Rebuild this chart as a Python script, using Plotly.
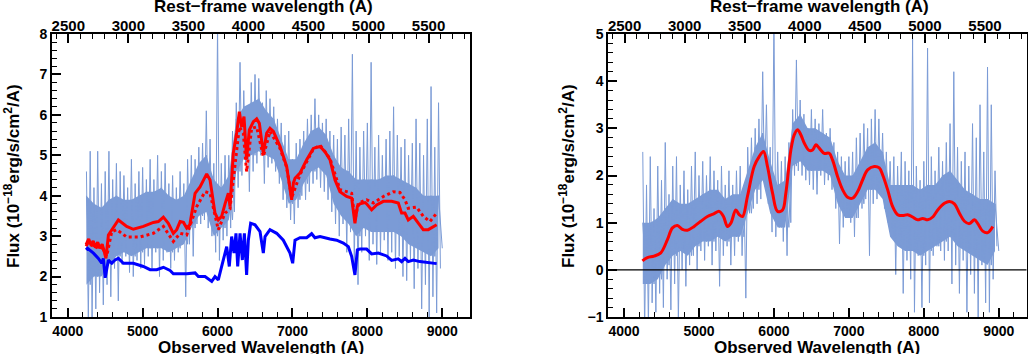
import plotly.graph_objects as go

Z = 0.603  # redshift linking observed and rest-frame axes

# ---------------- left panel data ----------------
grid_l = list(range(4250, 8951, 50))
noise_hi_l = [4.6, 5.1, 4.2, 5.1, 4.3, 4.6, 5.1, 4.4, 4.8, 4.6,
              4.5, 4.2, 4.9, 4.3, 4.6, 4.7, 4.4, 4.9, 4.4, 5.0,
              4.6, 4.8, 4.3, 4.5, 4.2, 4.6, 4.3, 4.9, 5.0, 4.9,
              5.2, 5.3, 6.1, 5.4, 4.8, 8.2, 4.8, 5.0, 5.0, 5.6,
              6.3, 7.3, 6.6, 6.2, 6.8, 7.0, 6.9, 6.3, 6.6, 6.4,
              6.2, 5.9, 5.8, 5.5, 5.6, 4.9, 5.3, 5.4, 5.6, 5.9,
              6.0, 6.4, 6.0, 5.8, 5.9, 5.6, 5.5, 5.4, 5.7, 5.5,
              5.9, 7.5, 5.6, 5.2, 5.6, 5.8, 7.3, 5.2, 5.5, 5.0,
              5.4, 5.6, 6.2, 5.5, 5.2, 5.4, 5.0, 5.3, 5.9, 5.3,
              5.0, 5.9, 6.7, 5.2, 6.3]
noise_lo_l = [0.9, 1.0, 1.2, 1.6, 1.3, 1.8, 1.5, 2.2, 1.4, 2.3,
              2.5, 2.1, 2.0, 2.4, 2.2, 2.3, 2.5, 2.2, 2.6, 2.0,
              2.4, 2.6, 2.2, 2.4, 2.6, 2.8, 1.5, 2.8, 2.5, 3.3,
              3.3, 3.4, 3.2, 3.0, 2.6, 2.4, 2.9, 3.0, 3.2, 3.6,
              4.2, 4.5, 4.8, 4.1, 4.6, 4.8, 5.0, 4.3, 4.7, 4.8,
              4.6, 4.3, 3.9, 3.7, 3.4, 3.3, 3.7, 4.0, 3.9, 4.1,
              4.3, 4.4, 4.2, 4.1, 3.9, 3.6, 3.3, 3.0, 3.3, 2.6,
              3.1, 2.2, 1.8, 2.6, 3.0, 2.4, 2.8, 2.3, 2.6, 2.9,
              2.4, 2.6, 2.2, 2.5, 2.0, 1.9, 2.4, 1.7, 2.2, 1.2,
              1.8, 1.0, 1.5, 1.1, 2.2]
core_grid_l = list(range(4250, 8951, 100))
core_hi_l = [4.0, 3.8, 3.7, 3.9, 4.0, 3.9, 3.9, 4.0, 4.1, 4.1,
             4.2, 4.0, 3.9, 4.0, 4.4, 4.8, 5.0, 4.4, 4.2, 4.5,
             5.9, 6.2, 6.3, 6.4, 6.1, 5.9, 5.4, 4.9, 4.9, 5.3,
             5.6, 5.7, 5.5, 5.0, 4.7, 4.6, 4.4, 4.4, 4.4, 4.4,
             4.5, 4.5, 4.4, 4.3, 4.2, 4.0, 4.0, 4.0]
core_lo_l = [1.8, 2.0, 2.0, 2.3, 2.5, 2.6, 2.5, 2.6, 2.7, 2.7,
             2.7, 2.6, 2.7, 2.8, 3.2, 3.5, 3.6, 3.0, 3.2, 3.4,
             4.6, 4.9, 5.0, 5.1, 5.0, 4.9, 4.4, 3.8, 3.9, 4.3,
             4.6, 4.7, 4.5, 3.8, 3.5, 3.3, 3.0, 3.2, 3.1, 3.1,
             3.1, 3.1, 3.0, 2.8, 2.7, 2.6, 2.5, 2.7]

fit_l_wave = [4245, 4280, 4310, 4340, 4370, 4400, 4430, 4460, 4490, 4510,
              4543, 4570, 4676, 4787, 4876, 5010, 5143, 5210, 5277, 5343,
              5410, 5455, 5500, 5545, 5588, 5630, 5700, 5766, 5855, 5900,
              5966, 6010, 6055, 6100, 6144, 6166, 6210, 6255, 6291, 6322,
              6353, 6388, 6424, 6478, 6522, 6558, 6611, 6656, 6700, 6745,
              6834, 6923, 6989, 7012, 7034, 7100, 7190, 7278, 7368, 7434,
              7501, 7568, 7634, 7723, 7790, 7834, 7866, 7901, 7968, 7990,
              8057, 8124, 8213, 8324, 8413, 8457, 8502, 8546, 8613, 8680,
              8746, 8813, 8880, 8925]
fit_l_flux = [2.79, 2.93, 2.78, 2.88, 2.72, 2.85, 2.70, 2.80, 2.60, 2.45,
              3.03, 3.10, 3.40, 3.24, 3.17, 3.24, 3.34, 3.36, 3.47, 3.32,
              3.07, 3.16, 3.36, 3.34, 3.20, 3.28, 4.06, 4.22, 4.54, 4.39,
              3.57, 3.40, 3.49, 3.80, 4.06, 3.73, 5.05, 5.55, 6.08, 5.70,
              5.96, 4.90, 5.63, 5.83, 5.90, 5.79, 5.05, 5.55, 5.67, 5.59,
              5.22, 4.72, 3.90, 4.31, 4.43, 4.56, 4.89, 5.17, 5.22, 5.09,
              4.89, 4.39, 4.10, 3.98, 3.94, 3.32, 3.73, 3.80, 3.83, 3.80,
              3.65, 3.77, 3.86, 3.86, 3.82, 3.57, 3.57, 3.40, 3.49, 3.32,
              3.16, 3.16, 3.24, 3.28]

alt_l_wave = [4245, 4280, 4310, 4340, 4370, 4400, 4430, 4460, 4490, 4520,
              4587, 4654, 4787, 4965, 5143, 5277, 5410, 5500, 5588, 5722,
              5833, 5900, 6010, 6100, 6166, 6233, 6291, 6344, 6388, 6455,
              6522, 6611, 6700, 6834, 6923, 6989, 7100, 7278, 7368, 7501,
              7634, 7723, 7790, 7834, 7879, 7990, 8079, 8213, 8346, 8435,
              8502, 8546, 8657, 8746, 8835, 8925]
alt_l_flux = [2.75, 2.88, 2.74, 2.84, 2.68, 2.80, 2.66, 2.76, 2.58, 2.50,
              3.11, 3.16, 2.98, 2.98, 3.07, 3.24, 2.87, 3.07, 3.03, 3.73,
              4.10, 4.06, 3.16, 3.57, 3.67, 4.80, 5.70, 5.55, 4.60, 5.67,
              5.70, 4.97, 5.59, 5.17, 4.70, 3.95, 4.52, 5.15, 5.25, 4.92,
              4.15, 4.10, 4.06, 3.40, 3.82, 3.90, 3.82, 3.98, 4.10, 4.08,
              3.90, 3.69, 3.72, 3.49, 3.36, 3.57]

tmpl_l_wave = [4245, 4265, 4343, 4409, 4454, 4475, 4500, 4543, 4587, 4632,
               4676, 4743, 4876, 5010, 5099, 5188, 5277, 5366, 5410, 5588,
               5700, 5744, 5833, 5922, 5966, 6010, 6055, 6122, 6157, 6188,
               6220, 6246, 6269, 6300, 6331, 6358, 6388, 6411, 6442, 6500,
               6567, 6611, 6634, 6700, 6789, 6878, 6967, 7003, 7034, 7100,
               7190, 7256, 7300, 7368, 7501, 7590, 7679, 7746, 7790, 7834,
               7866, 7901, 7990, 8057, 8146, 8257, 8324, 8413, 8457, 8502,
               8546, 8613, 8702, 8835, 8925]
tmpl_l_flux = [2.66, 2.70, 2.58, 2.45, 2.33, 2.45, 1.97, 2.41, 2.33, 2.41,
               2.45, 2.33, 2.33, 2.25, 2.17, 2.17, 2.23, 2.15, 2.07, 2.07,
               2.09, 2.00, 2.00, 1.88, 2.00, 1.92, 2.25, 2.74, 2.25, 2.99,
               2.58, 3.07, 2.25, 3.07, 2.41, 3.07, 2.04, 2.90, 3.32, 3.28,
               3.11, 2.58, 2.99, 3.16, 3.07, 2.90, 2.58, 2.33, 2.90, 2.96,
               2.96, 3.06, 2.96, 2.99, 2.93, 2.90, 2.83, 2.74, 2.50, 2.04,
               2.66, 2.68, 2.68, 2.56, 2.58, 2.51, 2.40, 2.44, 2.37, 2.45,
               2.37, 2.41, 2.37, 2.33, 2.32]

# ---------------- right panel data ----------------
grid_r = list(range(4250, 8951, 50))
noise_hi_r = [2.5, 1.8, 2.4, 1.3, 2.2, 1.9, 2.7, 1.6, 2.2, 2.4,
              1.8, 2.1, 1.7, 2.2, 2.5, 2.0, 2.3, 2.0, 2.4, 2.1,
              1.9, 2.2, 1.8, 2.1, 1.8, 2.1, 2.2, 1.8, 2.6, 2.8,
              3.0, 3.2, 4.2, 3.5, 2.6, 5.3, 2.5, 2.3, 2.4, 2.7,
              3.4, 4.45, 3.6, 3.3, 3.0, 3.4, 3.2, 3.1, 3.4, 2.9,
              3.0, 2.7, 2.5, 2.4, 2.3, 2.4, 2.5, 2.8, 2.9, 3.1,
              3.0, 3.2, 3.4, 3.2, 2.9, 2.5, 2.3, 2.4, 2.2, 2.5,
              2.3, 2.1, 4.9, 2.2, 1.9, 2.3, 4.7, 2.4, 2.1, 2.6,
              2.3, 2.7, 3.1, 4.2, 2.6, 2.3, 2.5, 2.2, 3.1, 2.8,
              3.5, 2.5, 4.3, 3.5, 2.1]
noise_lo_r = [-1.3, -1.2, -0.7, -0.9, -0.5, -0.8, -0.2, -0.85, -0.3, -1.1,
              0.0, -0.35, 0.1, 0.3, 0.0, 0.4, 0.2, 0.5, 0.1, 0.4,
              -0.35, 0.3, 0.5, 0.1, 0.3, 0.6, 0.3, -0.6, 1.2, 1.3,
              1.4, 1.5, 1.8, 1.4, 0.8, 0.7, 0.9, 0.6, 0.3, 1.0,
              2.0, 2.1, 2.0, 1.9, 1.8, 1.7, 1.6, 2.0, 1.8, 1.9,
              1.7, 1.3, 0.55, 0.9, 1.2, 1.0, 0.7, 1.1, 1.3, 1.5,
              0.3, 1.4, 1.5, 1.6, 1.3, 1.0, 0.9, -0.1, 0.7, -0.5,
              0.2, -0.2, -0.9, 0.3, -0.8, 0.1, -0.7, 0.3, 0.5, 0.4,
              0.2, 0.4, -0.3, 0.1, -0.5, 0.2, -0.9, -0.1, -0.5, -1.0,
              0.1, -0.7, -0.9, -0.2, 0.5]
core_grid_r = list(range(4250, 8951, 100))
core_hi_r = [1.0, 1.0, 1.1, 1.3, 1.5, 1.4, 1.4, 1.5, 1.6, 1.7,
             1.7, 1.5, 1.6, 1.6, 2.1, 2.6, 2.9, 2.3, 1.8, 1.9,
             3.1, 3.3, 3.0, 3.0, 2.9, 2.8, 2.3, 2.0, 2.0, 2.3,
             2.6, 2.7, 2.5, 1.8, 1.8, 1.8, 1.8, 1.7, 1.8, 1.8,
             2.0, 2.1, 1.9, 1.7, 1.6, 1.5, 1.5, 1.4]
core_lo_r = [-0.3, -0.3, -0.2, 0.1, 0.3, 0.4, 0.3, 0.5, 0.6, 0.6,
             0.7, 0.6, 0.7, 0.7, 1.2, 1.7, 1.9, 1.2, 0.9, 0.9,
             2.2, 2.3, 2.1, 2.1, 2.1, 2.0, 1.4, 1.1, 1.1, 1.4,
             1.7, 1.7, 1.5, 0.7, 0.5, 0.4, 0.4, 0.3, 0.4, 0.5,
             0.6, 0.7, 0.5, 0.4, 0.3, 0.2, 0.1, 0.4]

fit_r_wave = [4245, 4312, 4400, 4490, 4579, 4646, 4712, 4779, 4846, 4935,
              5024, 5113, 5202, 5269, 5327, 5380, 5425, 5491, 5536, 5581,
              5647, 5736, 5803, 5861, 5914, 5981, 6048, 6115, 6159, 6226,
              6271, 6315, 6360, 6404, 6471, 6515, 6560, 6604, 6671, 6738,
              6782, 6849, 6916, 6983, 7050, 7117, 7184, 7250, 7339, 7406,
              7451, 7517, 7584, 7651, 7718, 7784, 7851, 7918, 7985, 8052,
              8119, 8186, 8275, 8341, 8408, 8475, 8542, 8608, 8675, 8720,
              8786, 8853, 8920]
fit_r_flux = [0.19, 0.26, 0.29, 0.36, 0.64, 0.89, 0.94, 0.86, 0.84, 0.92,
              1.03, 1.13, 1.19, 1.24, 1.13, 0.92, 0.99, 1.27, 1.17, 1.13,
              1.56, 2.19, 2.40, 2.51, 2.19, 1.63, 1.24, 1.27, 1.63, 2.54,
              2.86, 2.97, 2.86, 2.69, 2.53, 2.54, 2.65, 2.58, 2.47, 2.47,
              2.33, 1.98, 1.70, 1.54, 1.52, 1.66, 1.91, 2.12, 2.19, 2.16,
              2.01, 1.70, 1.34, 1.17, 1.15, 1.17, 1.12, 1.06, 1.09, 1.06,
              1.12, 1.27, 1.41, 1.45, 1.40, 1.20, 1.03, 0.98, 1.06, 0.98,
              0.82, 0.79, 0.92]

XRANGE = [3790, 9370]
YRANGE_L = [1, 8]
YRANGE_R = [-1, 5]
NOISE_COLOR = "#7b9bd6"
FONT = "Liberation Sans, Arial, sans-serif"


def zigzag(grid, hi, lo, half):
    xs, ys = [], []
    for w, h, l in zip(grid, hi, lo):
        xs += [w, w + half]
        ys += [h, l]
    return xs, ys


fig = go.Figure()


def add_noise(grid, hi, lo, cgrid, chi, clo, xa, ya):
    bx = list(cgrid) + list(cgrid)[::-1]
    by = list(chi) + list(clo)[::-1]
    fig.add_trace(go.Scatter(x=bx, y=by, mode="lines", fill="toself", fillcolor=NOISE_COLOR,
                             line=dict(color=NOISE_COLOR, width=0), xaxis=xa, yaxis=ya,
                             showlegend=False, hoverinfo="skip"))
    cx, cy = zigzag(cgrid, chi, clo, 50)
    fig.add_trace(go.Scatter(x=cx, y=cy, mode="lines", line=dict(color=NOISE_COLOR, width=1),
                             xaxis=xa, yaxis=ya, showlegend=False, hoverinfo="skip"))
    nx, ny = zigzag(grid, hi, lo, 25)
    fig.add_trace(go.Scatter(x=nx, y=ny, mode="lines", line=dict(color=NOISE_COLOR, width=1),
                             xaxis=xa, yaxis=ya, showlegend=False, hoverinfo="skip"))


add_noise(grid_l, noise_hi_l, noise_lo_l, core_grid_l, core_hi_l, core_lo_l, "x", "y")
fig.add_trace(go.Scatter(x=alt_l_wave, y=alt_l_flux, mode="lines",
                         line=dict(color="#ff0000", width=3, dash="dot"),
                         xaxis="x", yaxis="y", showlegend=False))
fig.add_trace(go.Scatter(x=fit_l_wave, y=fit_l_flux, mode="lines",
                         line=dict(color="#ff0000", width=3),
                         xaxis="x", yaxis="y", showlegend=False))
fig.add_trace(go.Scatter(x=tmpl_l_wave, y=tmpl_l_flux, mode="lines",
                         line=dict(color="#0000ff", width=3),
                         xaxis="x", yaxis="y", showlegend=False))

add_noise(grid_r, noise_hi_r, noise_lo_r, core_grid_r, core_hi_r, core_lo_r, "x2", "y2")
fig.add_trace(go.Scatter(x=fit_r_wave, y=fit_r_flux, mode="lines",
                         line=dict(color="#ff0000", width=3, shape="spline"),
                         xaxis="x2", yaxis="y2", showlegend=False))

# invisible traces to carry the rest-frame axes
fig.add_trace(go.Scatter(x=[w / (1 + Z) for w in fit_l_wave], y=fit_l_flux, mode="lines",
                         line=dict(width=0), opacity=0, xaxis="x3", yaxis="y",
                         showlegend=False, hoverinfo="skip"))
fig.add_trace(go.Scatter(x=[w / (1 + Z) for w in fit_r_wave], y=fit_r_flux, mode="lines",
                         line=dict(width=0), opacity=0, xaxis="x4", yaxis="y2",
                         showlegend=False, hoverinfo="skip"))

tickfont = dict(family=FONT, size=14, color="black", weight="bold")
topfont = dict(family=FONT, size=15, color="black", weight="bold")
common_x = dict(range=XRANGE, showgrid=False, zeroline=False, showline=True, mirror=True,
                linecolor="black", linewidth=2, ticks="inside", ticklen=9, tickwidth=1.5,
                tickcolor="black", dtick=1000, tick0=0, tickfont=tickfont,
                minor=dict(ticks="inside", ticklen=5, dtick=200, tickcolor="black", tickwidth=1.2))
common_y = dict(showgrid=False, zeroline=False, showline=True, mirror=True,
                linecolor="black", linewidth=2, ticks="inside", ticklen=9, tickwidth=1.5,
                tickcolor="black", dtick=1, tick0=0, tickfont=tickfont,
                minor=dict(ticks="inside", ticklen=5, dtick=0.2, tickcolor="black", tickwidth=1.2))
common_top = dict(range=[XRANGE[0] / (1 + Z), XRANGE[1] / (1 + Z)], side="top", showgrid=False,
                  zeroline=False, showline=False, ticks="inside", ticklen=9, tickwidth=1.5,
                  tickcolor="black", dtick=500, tick0=0, tickfont=topfont,
                  ticklabelstandoff=-1,
                  minor=dict(ticks="inside", ticklen=5, dtick=100, tickcolor="black", tickwidth=1.2))

dom_l = [52 / 1028, 470 / 1028]
dom_r = [608.3 / 1028, 1026.5 / 1028]

fig.update_layout(
    width=1028, height=354,
    margin=dict(l=0, r=0, t=34, b=37),
    plot_bgcolor="white", paper_bgcolor="white",
    xaxis=dict(domain=dom_l, anchor="y", **common_x),
    yaxis=dict(domain=[0, 1], anchor="x", range=YRANGE_L, **common_y),
    xaxis2=dict(domain=dom_r, anchor="y2", **common_x),
    yaxis2=dict(domain=[0, 1], anchor="x2", range=YRANGE_R, **common_y),
    xaxis3=dict(overlaying="x", anchor="y", **common_top),
    xaxis4=dict(overlaying="x2", anchor="y2", **common_top),
)

fig.add_shape(type="line", xref="x2 domain", yref="y2", x0=0, x1=1, y0=0, y1=0,
              line=dict(color="black", width=1.2))

titlefont = dict(family=FONT, size=17, color="black", weight="bold")
H = 283.0


def py(ypix):
    return (317 - ypix) / H


ytitle = "Flux (10<sup>−18</sup>erg/s/cm<sup>2</sup>/A)"
for xc in (12, 567):
    fig.add_annotation(x=xc / 1028, y=py(176), xref="paper", yref="paper", text=ytitle,
                       textangle=-90, showarrow=False, font=titlefont,
                       xanchor="center", yanchor="middle")
for xc in (261, 817):
    fig.add_annotation(x=xc / 1028, y=py(347), xref="paper", yref="paper",
                       text="Observed Wavelength (A)", showarrow=False, font=titlefont,
                       xanchor="center", yanchor="middle")
for xc in (263, 819):
    fig.add_annotation(x=xc / 1028, y=py(7), xref="paper", yref="paper",
                       text="Rest−frame wavelength (A)", showarrow=False, font=titlefont,
                       xanchor="center", yanchor="middle")

fig.write_html("out.html", config={"displayModeBar": False},
               post_script="document.body.style.margin='0';document.body.style.padding='0';")
